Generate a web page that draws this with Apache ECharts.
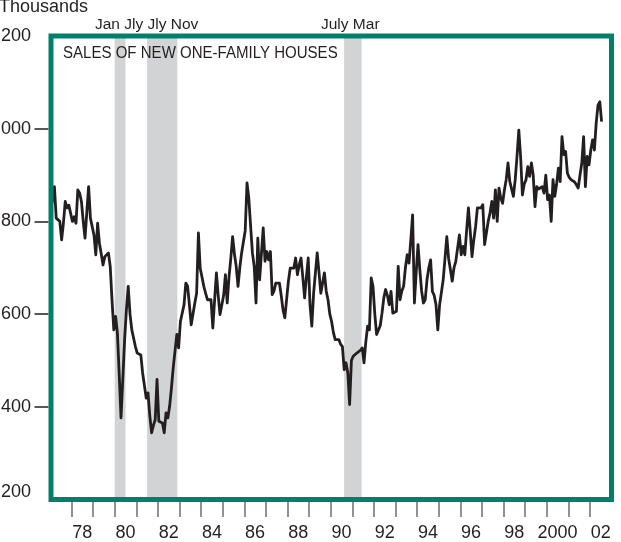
<!DOCTYPE html>
<html>
<head>
<meta charset="utf-8">
<style>
  html, body { margin: 0; padding: 0; background: #fff; }
  #chart { width: 621px; height: 542px; }
</style>
<script src="https://cdn.jsdelivr.net/npm/echarts@6/dist/echarts.min.js"></script>
</head>
<body>
<div id="chart"></div>
<script>
// monthly sales of new one-family houses, thousands, from Jan 1977
const startYear = 1977;
const sales = [
  832, 845, 875, 807, 811, 800, 760, 796, 843, 829, 835, 839, // 77
  800, 810, 796, 868, 861, 843, 800, 764, 820, 875, 807, 803, // 78
  770, 728, 796, 753, 730, 706, 724, 728, 732, 703, 630, 566, // 79
  595, 559, 470, 376, 460, 545, 610, 660, 600, 566, 563, 530, // 80
  516, 514, 512, 473, 469, 419, 430, 380, 344, 360, 372, 459, // 81
  369, 369, 365, 344, 387, 376, 401, 440, 484, 487, 556, 527, // 82
  584, 584, 620, 667, 660, 620, 577, 600, 624, 645, 775, 699, // 83
  699, 660, 645, 631, 631, 631, 570, 630, 689, 640, 599, 602, // 84
  640, 685, 624, 680, 720, 767, 730, 703, 660, 700, 732, 735, // 85
  780, 883, 850, 790, 732, 703, 624, 764, 674, 730, 786, 714, // 86
  735, 717, 735, 642, 650, 667, 667, 667, 640, 609, 592, 592, // 87
  671, 699, 699, 699, 721, 685, 706, 721, 680, 635, 680, 721, // 88
  620, 574, 645, 649, 732, 690, 645, 645, 689, 650, 631, 600, // 89
  584, 560, 545, 545, 545, 535, 530, 480, 495, 473, 405, 500, // 90
  509, 513, 516, 520, 522, 527, 495, 540, 574, 566, 678, 660, // 91
  600, 556, 552, 575, 602, 635, 653, 640, 620, 649, 602, 606, // 92
  606, 703, 631, 650, 660, 700, 728, 710, 760, 814, 624, 690, // 93
  750, 696, 650, 624, 631, 674, 700, 717, 649, 640, 620, 566, // 94
  620, 624, 674, 720, 767, 720, 696, 671, 700, 714, 717, 771, // 95
  728, 746, 728, 780, 829, 780, 724, 760, 789, 829, 829, 829, // 96
  836, 750, 775, 800, 818, 843, 807, 868, 800, 872, 850, 839, // 97
  868, 890, 926, 886, 870, 854, 890, 940, 997, 940, 857, 880, // 98
  890, 918, 897, 926, 900, 832, 875, 870, 872, 875, 861, 900, // 99
  847, 857, 800, 890, 854, 880, 915, 886, 983, 944, 951, 904, // 2000
  895, 890, 890, 885, 879, 872, 900, 926, 983, 875, 940, 922, // 01
  954, 976, 954, 1012, 1051, 1058, 1015                       // 02
];

// recession bands (start, end) in years
const recessions = [[1980.0, 1980.5], [1981.5, 1982.9], [1990.62, 1991.43]];

const yearTicks = [1978, 1979, 1980, 1981, 1982, 1983, 1984, 1985, 1986, 1987, 1988, 1989,
  1990, 1991, 1992, 1993, 1994, 1995, 1996, 1997, 1998, 1999, 2000, 2001, 2002];
const labelYears = [1978, 1980, 1982, 1984, 1986, 1988, 1990, 1992, 1994, 1996, 1998, 2000, 2002];
const xLabels = ['78', '80', '82', '84', '86', '88', '90', '92', '94', '96', '98', '2000', '02'];

const yTickValues = [200, 400, 600, 800, 1000, 1200];
const yTickLabels = ['200', '400', '600', '800', '1,000', '1,200'];

const font = 'Liberation Sans';
const ink = '#231f20';
const green = '#00806a';

const chart = echarts.init(document.getElementById('chart'));

const points = sales.map((v, i) => [startYear + (i + 0.5) / 12, v]);

chart.setOption({
  animation: false,
  grid: {
    left: 51, right: 9.5, top: 36, bottom: 42.5,
    containLabel: false,
    outerBoundsMode: 'none',
    show: true, z: 10,
    borderColor: green, borderWidth: 5,
    backgroundColor: 'transparent'
  },
  xAxis: {
    type: 'value',
    min: 1977.05,
    max: 2003,
    offset: 2.5,
    axisLine: { show: false },
    splitLine: { show: false },
    axisTick: {
      show: true, length: 15, customValues: yearTicks,
      lineStyle: { color: '#6d6e71', width: 1.5 }
    },
    axisLabel: {
      customValues: labelYears.map(y => y + 0.5),
      formatter: v => xLabels[labelYears.indexOf(Math.floor(v))],
      fontSize: 18, fontFamily: font, color: ink, margin: 22
    }
  },
  yAxis: {
    type: 'value',
    min: 200,
    max: 1200,
    interval: 200,
    offset: 2.5,
    axisLine: { show: false },
    splitLine: { show: false },
    axisTick: {
      show: true, length: 14, customValues: [400, 600, 800, 1000],
      lineStyle: { color: ink, width: 1.5 }
    },
    axisLabel: {
      fontSize: 18, fontFamily: font, color: ink, margin: 17.5,
      formatter: v => {
        const s = yTickLabels[yTickValues.indexOf(v)];
        return v === 200 ? '{low|' + s + '}' : s;
      },
      rich: {
        low: { fontSize: 18, fontFamily: font, color: ink, padding: [0, 0, 14, 0] }
      }
    }
  },
  graphic: [
    { type: 'text', x: -1, y: 7, style: { text: 'Thousands', fontSize: 18, fontFamily: font, fill: ink, verticalAlign: 'middle' } },
    { type: 'text', x: 95, y: 25, style: { text: 'Jan Jly Jly Nov', fontSize: 15.5, fontFamily: font, fill: ink, verticalAlign: 'middle' } },
    { type: 'text', x: 321, y: 25, style: { text: 'July Mar', fontSize: 15.5, fontFamily: font, fill: ink, verticalAlign: 'middle' } },
    { type: 'text', x: 63, y: 53.5, scaleX: 0.94, z: 20, style: { text: 'SALES OF NEW ONE-FAMILY HOUSES', fontSize: 16, fontFamily: font, fill: ink, verticalAlign: 'middle' } }
  ],
  series: [{
    type: 'line',
    data: points,
    showSymbol: false,
    lineStyle: { color: ink, width: 2.8, join: 'round' },
    markArea: {
      silent: true,
      itemStyle: { color: '#d1d3d4' },
      data: recessions.map(r => [{ xAxis: r[0] }, { xAxis: r[1] }])
    }
  }]
});
</script>
</body>
</html>
